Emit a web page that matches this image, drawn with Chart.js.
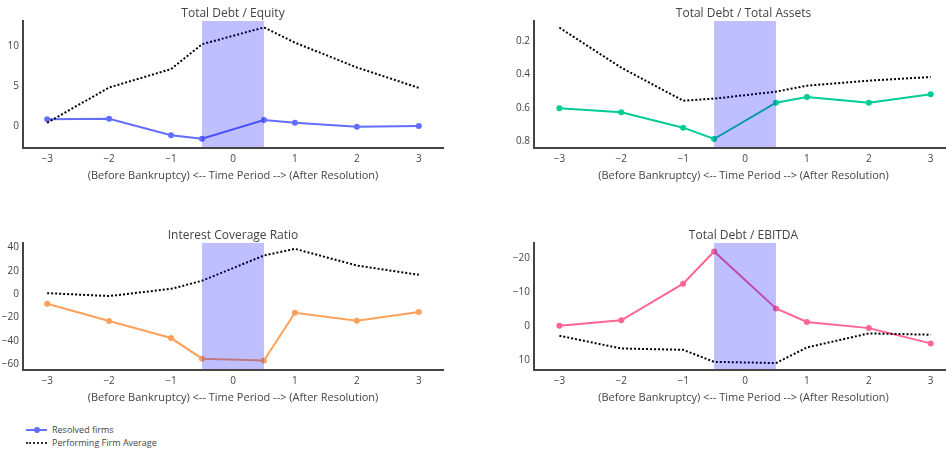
<!DOCTYPE html>
<html>
<head>
<meta charset="utf-8">
<script src="https://cdn.jsdelivr.net/npm/chart.js@4"></script>
<style>
  html, body { margin: 0; padding: 0; background: #fff; overflow: hidden; }
  body { width: 946px; height: 452px; position: relative; font-family: "Open Sans", sans-serif; }
  canvas { position: absolute; }
  #tl { left: 0;     top: 0; }
  #tr { left: 470px; top: 0; }
  #bl { left: 0;     top: 222px; }
  #br { left: 470px; top: 222px; }
  .legend { position: absolute; left: 26px; top: 423px; font-size: 9px; color: #444; line-height: 13px; }
  .legend .row { display: flex; align-items: center; }
  .legend .sym { position: relative; width: 21px; height: 0; margin-right: 5px; }
  .legend .solid { border-top: 2px solid #636efa; }
  .legend .solid::after { content: ""; position: absolute; left: 8px; top: -4px; width: 6px; height: 6px; border-radius: 50%; background: #636efa; }
  .legend .dot { border-top: 2px dotted #333; }
</style>
</head>
<body>
<canvas id="tl" width="450" height="195"></canvas>
<canvas id="tr" width="486" height="195"></canvas>
<canvas id="bl" width="450" height="195"></canvas>
<canvas id="br" width="486" height="195"></canvas>

<div class="legend">
  <div class="row"><span class="sym solid"></span>Resolved firms</div>
  <div class="row"><span class="sym dot"></span>Performing Firm Average</div>
</div>

<script>
/* ── данные ─────────────────────────────────────────────── */
const periods = [-3, -2, -1, -0.5, 0.5, 1, 2, 3];
const xTicks  = [-3, -2, -1, 0, 1, 2, 3];
const shade   = [-0.5, 0.5];          // период банкротства
const xLabel  = '(Before Bankruptcy) <-- Time Period --> (After Resolution)';

/* Total Debt / Equity */
const deResolved   = [0.85, 0.9, -1.15, -1.6, 0.75, 0.4, -0.1, 0.0];
const dePerforming = [0.4, 4.8, 7.1, 10.2, 12.3, 10.4, 7.3, 4.75];
const deTicks      = [0, 5, 10];

/* Total Debt / Total Assets (ось перевёрнута) */
const daResolved   = [0.604, 0.628, 0.72, 0.788, 0.57, 0.536, 0.57, 0.52];
const daPerforming = [0.12, 0.36, 0.558, 0.546, 0.504, 0.468, 0.438, 0.416];
const daTicks      = [0.2, 0.4, 0.6, 0.8];

/* Interest Coverage Ratio */
const icResolved   = [-8.3, -23.1, -37.7, -55.4, -56.9, -16, -22.9, -15.4];
const icPerforming = [0.8, -1.7, 4.5, 11.4, 33.1, 38.8, 24.5, 16.5];
const icTicks      = [-60, -40, -20, 0, 20, 40];

/* Total Debt / EBITDA (ось перевёрнута) */
const ebResolved   = [0.0, -1.6, -12.4, -21.9, -5.1, -1.1, 0.7, 5.2];
const ebPerforming = [2.95, 6.7, 7.1, 10.65, 11.0, 6.4, 2.25, 2.65];
const ebTicks      = [-20, -10, 0, 10];

/* ── утилиты ────────────────────────────────────────────── */
Chart.defaults.font.family = '"Open Sans", sans-serif';
Chart.defaults.color = '#444';

const fmt = v => String(v).replace('-', '\u2212');
const pts = ys => periods.map((x, i) => ({ x, y: ys[i] }));

/* полоса -0.5..0.5 поверх линий + заголовок по центру области */
const extras = {
  id: 'extras',
  afterDatasetsDraw(chart) {
    const { ctx, chartArea: a, scales: { x } } = chart;
    const x0 = x.getPixelForValue(shade[0]), x1 = x.getPixelForValue(shade[1]);
    ctx.save();
    ctx.fillStyle = 'rgba(0,0,255,0.25)';
    ctx.fillRect(x0, a.top, x1 - x0, a.bottom - a.top - 1);
    ctx.restore();
  },
  afterDraw(chart) {
    const { ctx, chartArea: a } = chart;
    ctx.save();
    ctx.font = '12px "Open Sans", sans-serif';
    ctx.fillStyle = '#444';
    ctx.textAlign = 'center';
    ctx.textBaseline = 'middle';
    ctx.fillText(chart.options.plugins.extras.title, (a.left + a.right) / 2, 14);
    ctx.restore();
  }
};

function makeChart(id, title, resolved, performing, color, yMin, yMax, yTicks, reverse, yWidth, padRight, xRange) {
  return new Chart(document.getElementById(id), {
    type: 'line',
    data: {
      datasets: [
        { label: 'Resolved firms', data: pts(resolved), borderColor: color, backgroundColor: color,
          borderWidth: 2, pointRadius: 3, pointHoverRadius: 3, pointBorderWidth: 0, order: 2 },
        { label: 'Performing Firm Average', data: pts(performing), borderColor: '#000',
          borderWidth: 2, borderDash: [2, 2], pointRadius: 0, order: 1 }
      ]
    },
    options: {
      responsive: false,
      animation: false,
      layout: { padding: { top: 21, right: padRight, left: 0, bottom: 0 } },
      plugins: { legend: { display: false }, tooltip: { enabled: false }, extras: { title } },
      scales: {
        x: {
          type: 'linear', min: xRange[0], max: xRange[1],
          grid: { display: false, drawTicks: false },
          border: { display: true, color: '#444', width: 2 },
          afterBuildTicks: s => { s.ticks = xTicks.map(v => ({ value: v })); },
          afterFit: s => { s.height = 47; },
          ticks: { font: { size: 10 }, padding: 5, maxRotation: 0, callback: v => fmt(v) },
          title: { display: true, text: xLabel, font: { size: 11 }, padding: { top: 0, bottom: 13 } }
        },
        y: {
          min: yMin, max: yMax, reverse,
          grid: { display: false, drawTicks: false },
          border: { display: true, color: '#444', width: 2 },
          afterBuildTicks: s => { s.ticks = yTicks.map(v => ({ value: v })); },
          afterFit: s => { s.width = yWidth; },
          ticks: { font: { size: 10 }, padding: 4, callback: v => fmt(v) }
        }
      }
    },
    plugins: [extras]
  });
}

const leftRange  = [-3.39, 3.39];
const rightRange = [-3.41, 3.36];

makeChart('tl', 'Total Debt / Equity',       deResolved, dePerforming, '#636efa', -2.75, 13.1, deTicks, false, 23, 7, leftRange);
makeChart('tr', 'Total Debt / Total Assets', daResolved, daPerforming, '#00cc96', 0.08, 0.842, daTicks, true, 64, 2, rightRange);
makeChart('bl', 'Interest Coverage Ratio',   icResolved, icPerforming, '#ffa15a', -65.1, 43.8, icTicks, false, 23, 7, leftRange);
makeChart('br', 'Total Debt / EBITDA',       ebResolved, ebPerforming, '#ff6692', -24.4, 13.05, ebTicks, true, 64, 2, rightRange);
</script>
</body>
</html>
